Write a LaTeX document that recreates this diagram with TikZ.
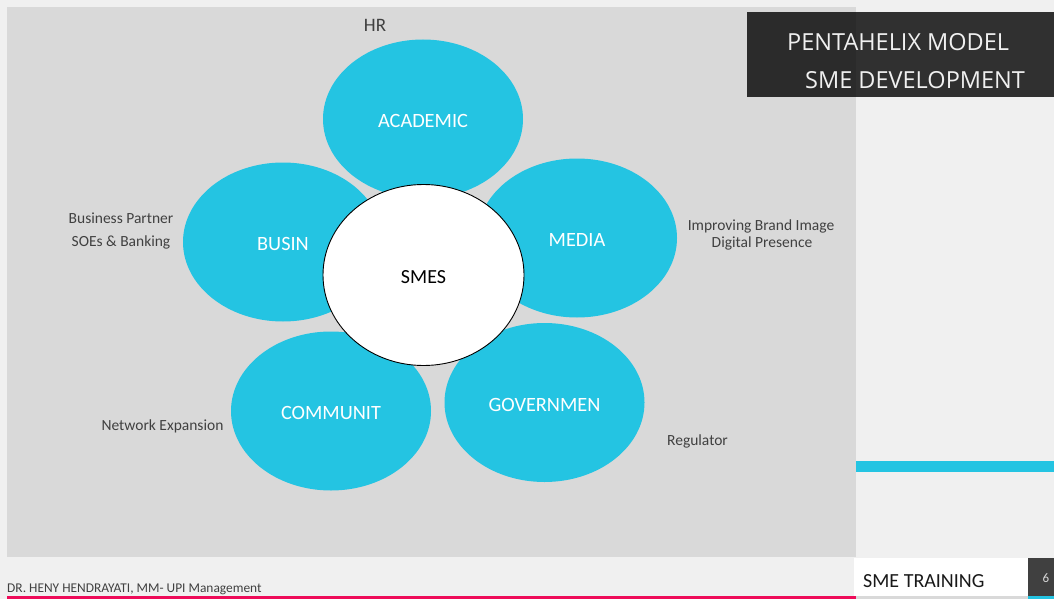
\documentclass[tikz,border=0pt]{standalone}
\usepackage{fontspec}
\setmainfont{Carlito}
\newfontfamily\titlefont{Open Sans}
\usetikzlibrary{shapes.geometric}
\definecolor{panel}{HTML}{D9D9D9}
\definecolor{canvas}{HTML}{F0F0F0}
\definecolor{aqua}{RGB}{36,196,226}
\definecolor{labelgray}{HTML}{404040}
\definecolor{accent}{HTML}{EE0B59}
\definecolor{pagebox}{HTML}{404040}
\begin{document}
\begin{tikzpicture}[x=1pt,y=-1pt,
  petal/.style={ellipse, fill=aqua, inner sep=0pt, minimum width=200pt,
    minimum height=159pt, text=white, text height=17pt, text depth=0pt,
    font=\fontsize{20.3}{24}\selectfont},
  hub/.style={ellipse, fill=white, draw=black, line width=0.9pt, inner sep=0pt,
    minimum width=201pt, minimum height=181pt, text height=17pt, text depth=0pt,
    font=\fontsize{20}{24}\selectfont},
  note/.style={text=labelgray, font=\fontsize{15.5}{18}\selectfont, inner sep=0pt},
  titletext/.style={anchor=west, text=canvas, inner sep=0pt,
    font=\titlefont\fontsize{23.5}{27}\selectfont},
]
% slide canvas and content panel
\fill[canvas] (0,0) rectangle (1054,599);
\useasboundingbox (0,0) rectangle (1054,599);
\fill[panel] (7,7) rectangle (856,557);

% title banner
\fill[black, fill opacity=0.8] (747,12) rectangle (1054,97);
\node[titletext] (t1) at (787,42) {PENTAHELIX MODEL};
\node[titletext] (t2) at (805,80) {SME DEVELOPMENT};

% side accent bar
\fill[aqua] (856,461) rectangle (1054,472);

% the five helix actors
\node[petal] (academic) at (423,119) {ACADEMIC};
\node[petal] (busin) at (283,242) {BUSIN};
\node[petal] (media) at (577,238) {MEDIA};
\node[petal] (communit) at (331,411) {COMMUNIT};
\node[petal] (governmen) at (544.5,402.5) {GOVERNMEN};

% centre
\node[hub] (smes) at (423.5,275) {SMES};

% roles of each actor
\node[note, font=\fontsize{19}{22}\selectfont] (hr) at (375,25) {HR};
\node[note] (bp) at (121,218) {Business Partner};
\node[note] (soe) at (121,242) {SOEs \& Banking};
\node[note] (brand) at (761,226) {Improving Brand Image};
\node[note] (digital) at (762,243) {Digital Presence};
\node[note] (network) at (162.5,426) {Network Expansion};
\node[note] (regulator) at (697.5,441) {Regulator};

% footer
\fill[white] (854,558) rectangle (1028,596);
\fill[pagebox] (1028,558) rectangle (1054,596);
\fill[accent] (7,596) rectangle (856,599);
\fill[panel] (856,596) rectangle (1028,599);
\fill[aqua] (1028,596) rectangle (1054,599);
\node[anchor=base west, inner sep=0pt, text=labelgray,
  font=\fontsize{13.4}{15}\selectfont] (author) at (7,592)
  {DR. HENY HENDRAYATI, MM- UPI Management};
\node[anchor=west, inner sep=0pt, text=black!90,
  font=\fontsize{20}{24}\selectfont] (course) at (863,581) {SME TRAINING};
\node[inner sep=0pt, text=black!15, font=\fontsize{13}{15}\selectfont]
  (page) at (1046,578) {6};
\end{tikzpicture}
\end{document}
